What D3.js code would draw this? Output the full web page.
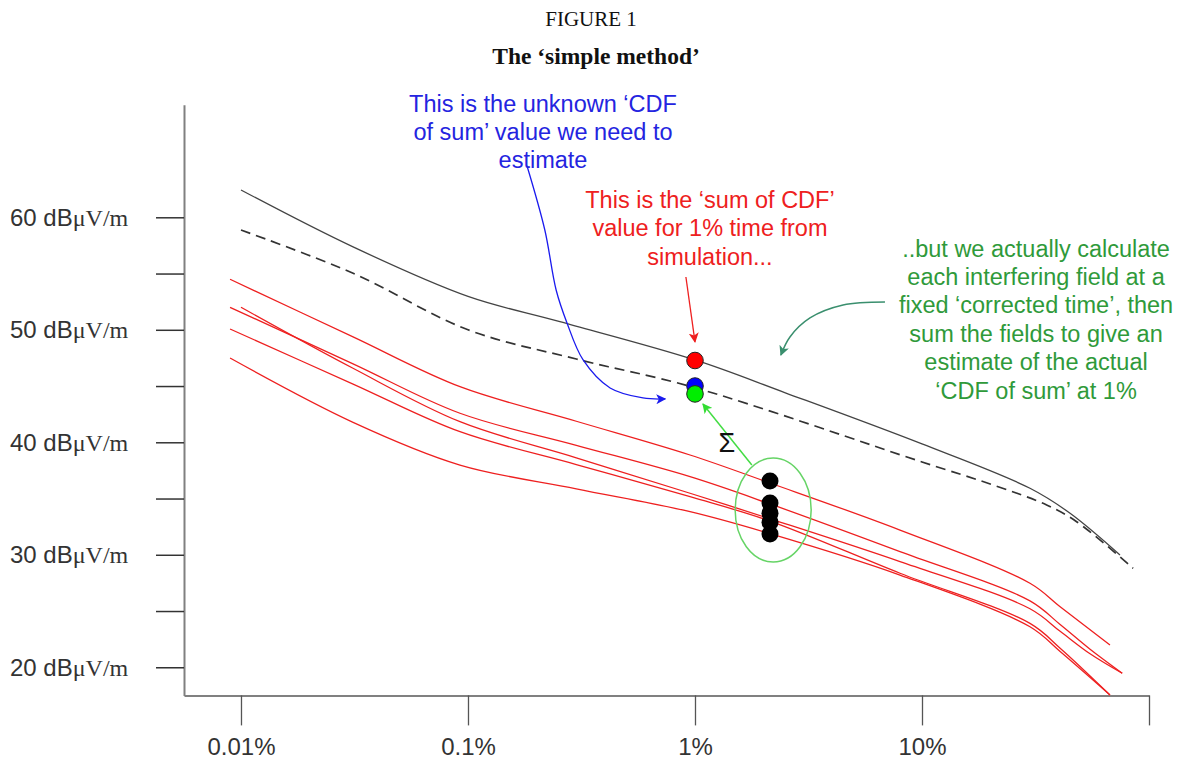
<!DOCTYPE html>
<html><head><meta charset="utf-8">
<script src="https://cdn.jsdelivr.net/npm/d3@7"></script>
<style>body{margin:0;background:#fff}</style></head>
<body><svg id="c" width="1183" height="764"></svg>
<script>
// ---------- data ----------
const yTicks = [20, 25, 30, 35, 40, 45, 50, 55, 60];
const yLabelTicks = [20, 30, 40, 50, 60];
const yUnit = "\u03bcV/m";
const xTicks = [0.01, 0.1, 1, 10, 100];
const xTickLabels = ["0.01%", "0.1%", "1%", "10%", ""];

const sumPct = [0.01, 0.031, 0.1, 0.254, 1, 2.5, 10, 29.9, 44.9, 74.5];
const sumVal = [62.43, 57.39, 52.97, 50.72, 47.32, 44.4, 39.85, 35.91, 33.69, 29.98];

const dashPct = [0.01, 0.031, 0.1, 0.3, 1, 10, 20.6, 35.4, 48.0, 85.1];
const dashVal = [58.87, 55.05, 50.0, 47.4, 44.85, 38.25, 36.2, 34.43, 32.94, 28.8];

const redPctA = [0.00895, 0.031, 0.0922, 0.3, 0.951, 2.14, 8.0, 29.9, 40.6, 67.3];
const redValA = [54.49, 49.39, 44.94, 41.87, 38.87, 36.38, 32.2, 27.47, 25.39, 21.98];
const redPctB = [0.00895, 0.031, 0.0922, 0.3, 0.951, 2.14, 8.0, 29.9, 40.6, 55, 76.2];
const redValB = [52.0, 47.0, 42.58, 39.73, 36.94, 34.52, 30.28, 25.9, 23.8, 21.6, 19.47];
const redPctC = [0.01, 0.031, 0.0922, 0.3, 0.951, 2.14, 8.0, 29.9, 40.6, 55, 76.2];
const redValC = [52.0, 46.6, 41.83, 38.62, 35.47, 33.2, 29.39, 25.2, 23.2, 21.2, 19.47];
const redPctD = [0.00895, 0.031, 0.0922, 0.3, 0.951, 2.14, 8.0, 29.9, 40.6, 67.3];
const redValD = [50.07, 45.2, 40.94, 38.02, 35.16, 33.0, 28.36, 23.9, 21.7, 17.54];
const redPctE = [0.00895, 0.031, 0.0922, 0.3, 0.951, 2.14, 8.0, 29.9, 40.6, 67.3];
const redValE = [47.49, 41.8, 37.98, 35.86, 33.83, 31.88, 28.2, 23.6, 21.4, 17.54];

// points at 1% : sum of CDF (red), CDF of sum (blue), estimate (green)
const keyPct = 1;
const keyVals = [47.27, 45.0, 44.3];
const keyColors = ["#ff0000", "#0000ff", "#00ee00"];
// individual fields at the corrected time
const fieldPct = 2.14;
const fieldVals = [36.56, 34.6, 33.7, 32.9, 31.85];
const ellipseCenter = [2.21, 33.98];

const blueText = ["This is the unknown \u2018CDF", "of sum\u2019 value we need to", "estimate"];
const redText = ["This is the \u2018sum of CDF\u2019", "value for 1% time from", "simulation..."];
const greenText = ["..but we actually calculate", "each interfering field at a",
  "fixed \u2018corrected time\u2019, then", "sum the fields to give an",
  "estimate of the actual", "\u2018CDF of sum\u2019 at 1%"];
const blueTextAt = [0.214, 69.4];
const redTextAt = [1.164, 60.83];
const greenTextAt = [31.8, 56.5];

const blueArrow = [[0.182, 64.56], [0.218, 58.87], [0.2445, 53.54], [0.273, 50.61],
  [0.3215, 47.32], [0.4227, 44.83], [0.59, 43.94], [0.74, 43.85]];
const redArrow = [[0.912, 54.69], [1.0, 48.92]];
const greenArrow = [[1.78, 37.98], [1.084, 43.4]];
const tealArrow = [[6.87, 52.47], [4.49, 52.2], [3.21, 51.05], [2.62, 49.36], [2.39, 47.76]];
const sigmaAt = [1.383, 40.03];

// ---------- chart ----------
const svg = d3.select("#c");
const x = d3.scaleLog().domain([0.00561, 100]).range([184, 1149]);
const y = d3.scaleLinear().domain([17.5, 70]).range([695.4, 104.8]);
const SANS = "'Liberation Sans', Arial, sans-serif";
const SERIF = "'Liberation Serif', 'Times New Roman', serif";

// titles
svg.append("text").attr("x", 591).attr("y", 26).attr("text-anchor", "middle")
  .attr("font-family", SERIF).attr("font-size", 21).attr("fill", "#111").text("FIGURE 1");
svg.append("text").attr("x", 596).attr("y", 64).attr("text-anchor", "middle")
  .attr("font-family", SERIF).attr("font-weight", "bold").attr("font-size", 23.5).attr("fill", "#111")
  .text("The \u2018simple method\u2019");

// y axis
const yAxis = svg.append("g").attr("transform", "translate(184,0)")
  .call(d3.axisLeft(y).tickValues(yTicks).tickSize(28).tickSizeOuter(0).tickFormat(""));
yAxis.select(".domain").attr("stroke", "#808080").attr("stroke-width", 2);
yAxis.selectAll(".tick line").attr("stroke", "#333").attr("stroke-width", 1.5);

const yl = svg.append("g").selectAll("text").data(yLabelTicks).join("text")
  .attr("x", 10).attr("y", d => y(d)).attr("dy", "0.36em")
  .attr("font-size", 24).attr("fill", "#333");
yl.append("tspan").attr("font-family", SANS).text(d => d + " dB");
yl.append("tspan").attr("font-family", SERIF).text(yUnit);

// x axis
const xAxis = svg.append("g").attr("transform", "translate(0,695.4)")
  .call(d3.axisBottom(x).tickValues(xTicks).tickSize(30).tickSizeOuter(0)
    .tickFormat((d, i) => xTickLabels[i]));
xAxis.select(".domain").attr("stroke", "#808080").attr("stroke-width", 2);
xAxis.selectAll(".tick line").attr("stroke", "#555").attr("stroke-width", 1.3);
xAxis.selectAll(".tick text").attr("font-family", SANS).attr("font-size", 24)
  .attr("fill", "#333").attr("y", 43).attr("dy", "0.71em").attr("dx", 0);

// curves
const line = d3.line().x(d => x(d[0])).y(d => y(d[1])).curve(d3.curveCatmullRom.alpha(0.5));
const zip = (a, b) => a.map((v, i) => [v, b[i]]);
const reds = [[redPctA, redValA], [redPctB, redValB], [redPctC, redValC], [redPctD, redValD], [redPctE, redValE]];
svg.append("g").selectAll("path").data(reds).join("path")
  .attr("d", d => line(zip(d[0], d[1]))).attr("fill", "none")
  .attr("stroke", "#ee2020").attr("stroke-width", 1.3);
svg.append("path").attr("d", line(zip(dashPct, dashVal))).attr("fill", "none")
  .attr("stroke", "#333").attr("stroke-width", 1.7).attr("stroke-dasharray", "10,6");
svg.append("path").attr("d", line(zip(sumPct, sumVal))).attr("fill", "none")
  .attr("stroke", "#444").attr("stroke-width", 1.3);

// markers
const defs = svg.append("defs");
function marker(id, color) {
  defs.append("marker").attr("id", id).attr("viewBox", "0 0 10 10").attr("refX", 9).attr("refY", 5)
    .attr("markerWidth", 10).attr("markerHeight", 10).attr("markerUnits", "userSpaceOnUse")
    .attr("orient", "auto").append("path").attr("d", "M0,0L10,5L0,10L2.5,5Z").attr("fill", color);
}
marker("mBlue", "#1a1aee"); marker("mRed", "#ee2020"); marker("mGreen", "#33dd33"); marker("mTeal", "#3a8f6e");

const P = d => [x(d[0]), y(d[1])];
svg.append("path").attr("d", d3.line().curve(d3.curveCatmullRom)(blueArrow.map(P)))
  .attr("fill", "none").attr("stroke", "#1a1aee").attr("stroke-width", 1.3).attr("marker-end", "url(#mBlue)");
svg.append("path").attr("d", d3.line()(redArrow.map(P)))
  .attr("fill", "none").attr("stroke", "#ee2020").attr("stroke-width", 1.3).attr("marker-end", "url(#mRed)");
svg.append("path").attr("d", d3.line()(greenArrow.map(P)))
  .attr("fill", "none").attr("stroke", "#44dd44").attr("stroke-width", 1.5).attr("marker-end", "url(#mGreen)");
svg.append("path").attr("d", d3.line().curve(d3.curveCatmullRom)(tealArrow.map(P)))
  .attr("fill", "none").attr("stroke", "#3a8f6e").attr("stroke-width", 1.5).attr("marker-end", "url(#mTeal)");

// ellipse
svg.append("ellipse").attr("cx", x(ellipseCenter[0])).attr("cy", y(ellipseCenter[1]))
  .attr("rx", 38).attr("ry", 52).attr("fill", "none").attr("stroke", "#66d466").attr("stroke-width", 1.5);

// points
svg.append("g").selectAll("circle").data(fieldVals).join("circle")
  .attr("cx", x(fieldPct)).attr("cy", d => y(d)).attr("r", 8.5).attr("fill", "#000");
svg.append("g").selectAll("circle").data(keyVals).join("circle")
  .attr("cx", x(keyPct)).attr("cy", d => y(d)).attr("r", 8.3)
  .attr("fill", (d, i) => keyColors[i]).attr("stroke", "#222").attr("stroke-width", 1);

// sigma
svg.append("text").attr("x", x(sigmaAt[0])).attr("y", y(sigmaAt[1])).attr("dy", "0.36em")
  .attr("text-anchor", "middle").attr("font-family", SANS).attr("font-size", 27).attr("fill", "#111").text("\u03a3");

// annotation texts
function block(lines, at, color) {
  svg.append("g").selectAll("text").data(lines).join("text")
    .attr("x", x(at[0])).attr("y", (d, i) => y(at[1]) + i * 28.4)
    .attr("text-anchor", "middle").attr("font-family", SANS).attr("font-size", 23.5)
    .attr("fill", color).text(d => d);
}
block(blueText, blueTextAt, "#2424e0");
block(redText, redTextAt, "#ee2020");
block(greenText, greenTextAt, "#2f9a3a");
</script>
</body></html>
